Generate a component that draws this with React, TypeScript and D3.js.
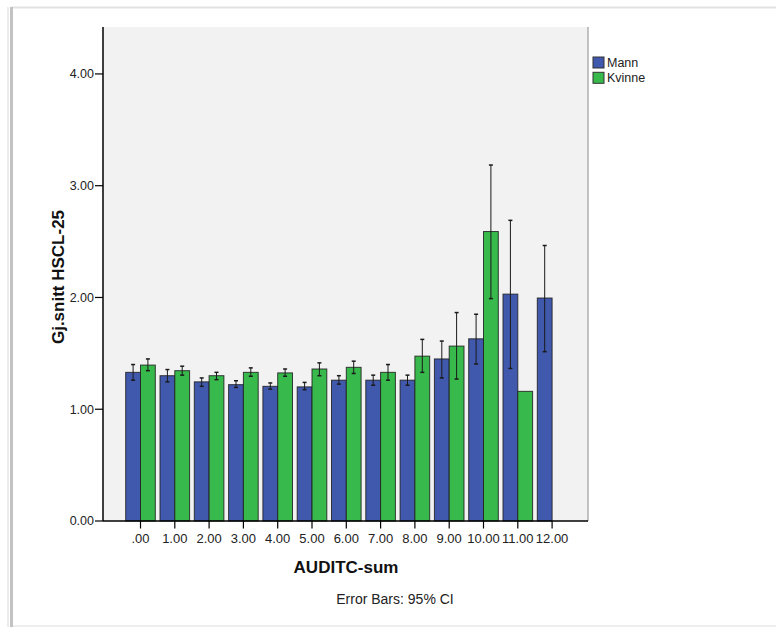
import React from "react";
import * as d3 from "d3";

const categories = [".00", "1.00", "2.00", "3.00", "4.00", "5.00", "6.00", "7.00", "8.00", "9.00", "10.00", "11.00", "12.00"];
const seriesNames = ["Mann", "Kvinne"];
const seriesColors = ["#4159ad", "#37b94b"];
const mannMean = [1.33, 1.30, 1.245, 1.22, 1.205, 1.20, 1.26, 1.26, 1.26, 1.45, 1.63, 2.03, 1.995];
const mannLo = [1.26, 1.245, 1.205, 1.195, 1.18, 1.175, 1.225, 1.215, 1.215, 1.28, 1.405, 1.365, 1.515];
const mannHi = [1.40, 1.355, 1.28, 1.255, 1.235, 1.24, 1.30, 1.305, 1.305, 1.61, 1.85, 2.69, 2.465];
const kvinneMean: (number | null)[] = [1.395, 1.345, 1.30, 1.33, 1.325, 1.36, 1.375, 1.33, 1.475, 1.565, 2.59, 1.16, null];
const kvinneLo: (number | null)[] = [1.345, 1.305, 1.265, 1.295, 1.295, 1.30, 1.32, 1.26, 1.33, 1.27, 1.99, null, null];
const kvinneHi: (number | null)[] = [1.45, 1.385, 1.33, 1.37, 1.36, 1.415, 1.43, 1.40, 1.625, 1.865, 3.185, null, null];
const yTicks = [0, 1, 2, 3, 4];

const FONT = "'Liberation Sans', Arial, sans-serif";

export default function App() {
  const left = 103, right = 588, top = 27, bottom = 521;
  const y = d3.scaleLinear().domain([0, 4.42]).range([bottom, top]);
  const x0 = d3.scaleBand<string>().domain(categories).range([123.35, 569.25]).paddingInner(0.137).paddingOuter(0.0685);
  const x1 = d3.scaleBand<string>().domain(seriesNames).range([0, x0.bandwidth()]);
  const means = [mannMean, kvinneMean];
  const los = [mannLo, kvinneLo];
  const his = [mannHi, kvinneHi];
  const fmt = d3.format(".2f");

  return (
    <svg width={776} height={628} style={{ position: "absolute", left: 0, top: 0, background: "#fff" }} fontFamily={FONT}>
      {/* frame */}
      <rect x={11} y={7} width={800} height={619} fill="#fff" stroke="none" />
      <line x1={11} x2={776} y1={7.5} y2={7.5} stroke="#e2e2e2" strokeWidth={2} />
      <line x1={11} x2={776} y1={626} y2={626} stroke="#e8e8e8" strokeWidth={1.5} />
      <line x1={8} x2={8} y1={7} y2={627} stroke="#ececec" strokeWidth={2} />
      <line x1={11.5} x2={11.5} y1={7} y2={627} stroke="#c2c2c2" strokeWidth={3} />

      {/* plot bg */}
      <rect x={left} y={top} width={right - left} height={bottom - top} fill="#f2f2f2" />
      <line x1={right} x2={right} y1={top} y2={bottom} stroke="#8a8a8a" strokeWidth={1} />

      {/* bars */}
      {categories.map((c, i) =>
        seriesNames.map((s, k) => {
          const m = means[k][i];
          if (m == null) return null;
          const bx = (x0(c) as number) + (x1(s) as number);
          return (
            <rect key={c + s} x={bx} y={y(m)} width={x1.bandwidth()} height={y(0) - y(m)}
              fill={seriesColors[k]} stroke="#1e1e1e" strokeWidth={1} strokeOpacity={0.85} />
          );
        })
      )}

      {/* error bars */}
      {categories.map((c, i) =>
        seriesNames.map((s, k) => {
          const lo = los[k][i];
          const hi = his[k][i];
          if (lo == null || hi == null) return null;
          const cx = (x0(c) as number) + (x1(s) as number) + x1.bandwidth() / 2;
          return (
            <g key={"e" + c + s} stroke="#1a1a1a" strokeWidth={1}>
              <line x1={cx} x2={cx} y1={y(hi)} y2={y(lo)} />
              <line x1={cx - 2} x2={cx + 2} y1={y(hi)} y2={y(hi)} strokeWidth={1.5} />
              <line x1={cx - 2} x2={cx + 2} y1={y(lo)} y2={y(lo)} strokeWidth={1.5} />
            </g>
          );
        })
      )}

      {/* axes */}
      <line x1={left} x2={left} y1={top} y2={bottom} stroke="#000" strokeWidth={1.5} />
      <line x1={left} x2={right} y1={bottom} y2={bottom} stroke="#000" strokeWidth={1.5} />
      {yTicks.map((t) => (
        <g key={"y" + t}>
          <line x1={95} x2={left} y1={y(t)} y2={y(t)} stroke="#000" strokeWidth={1.2} />
          <text x={94} y={y(t) + 4.3} textAnchor="end" fontSize={12.5} fill="#222">{fmt(t).replace(/^0\.00$/, "0.00")}</text>
        </g>
      ))}
      {categories.map((c) => {
        const cx = (x0(c) as number) + x0.bandwidth() / 2;
        return (
          <g key={"x" + c}>
            <line x1={cx} x2={cx} y1={bottom} y2={528.5} stroke="#000" strokeWidth={1.2} />
            <text x={cx} y={543} textAnchor="middle" fontSize={13} fill="#222">{c}</text>
          </g>
        );
      })}

      {/* titles */}
      <text x={346} y={572.5} textAnchor="middle" fontSize={17} fontWeight="bold" fill="#111">AUDITC-sum</text>
      <text transform={`translate(63.5,277) rotate(-90)`} textAnchor="middle" fontSize={17} fontWeight="bold" fill="#111">Gj.snitt HSCL-25</text>
      <text x={395} y={604} textAnchor="middle" fontSize={14} fill="#222">Error Bars: 95% CI</text>

      {/* legend */}
      {seriesNames.map((s, k) => (
        <g key={"l" + s}>
          <rect x={593} y={57 + k * 15.3} width={11} height={11} fill={seriesColors[k]} stroke="#333" strokeWidth={1} />
          <text x={607} y={67 + k * 15.3} fontSize={12.5} fill="#222">{s}</text>
        </g>
      ))}
    </svg>
  );
}
